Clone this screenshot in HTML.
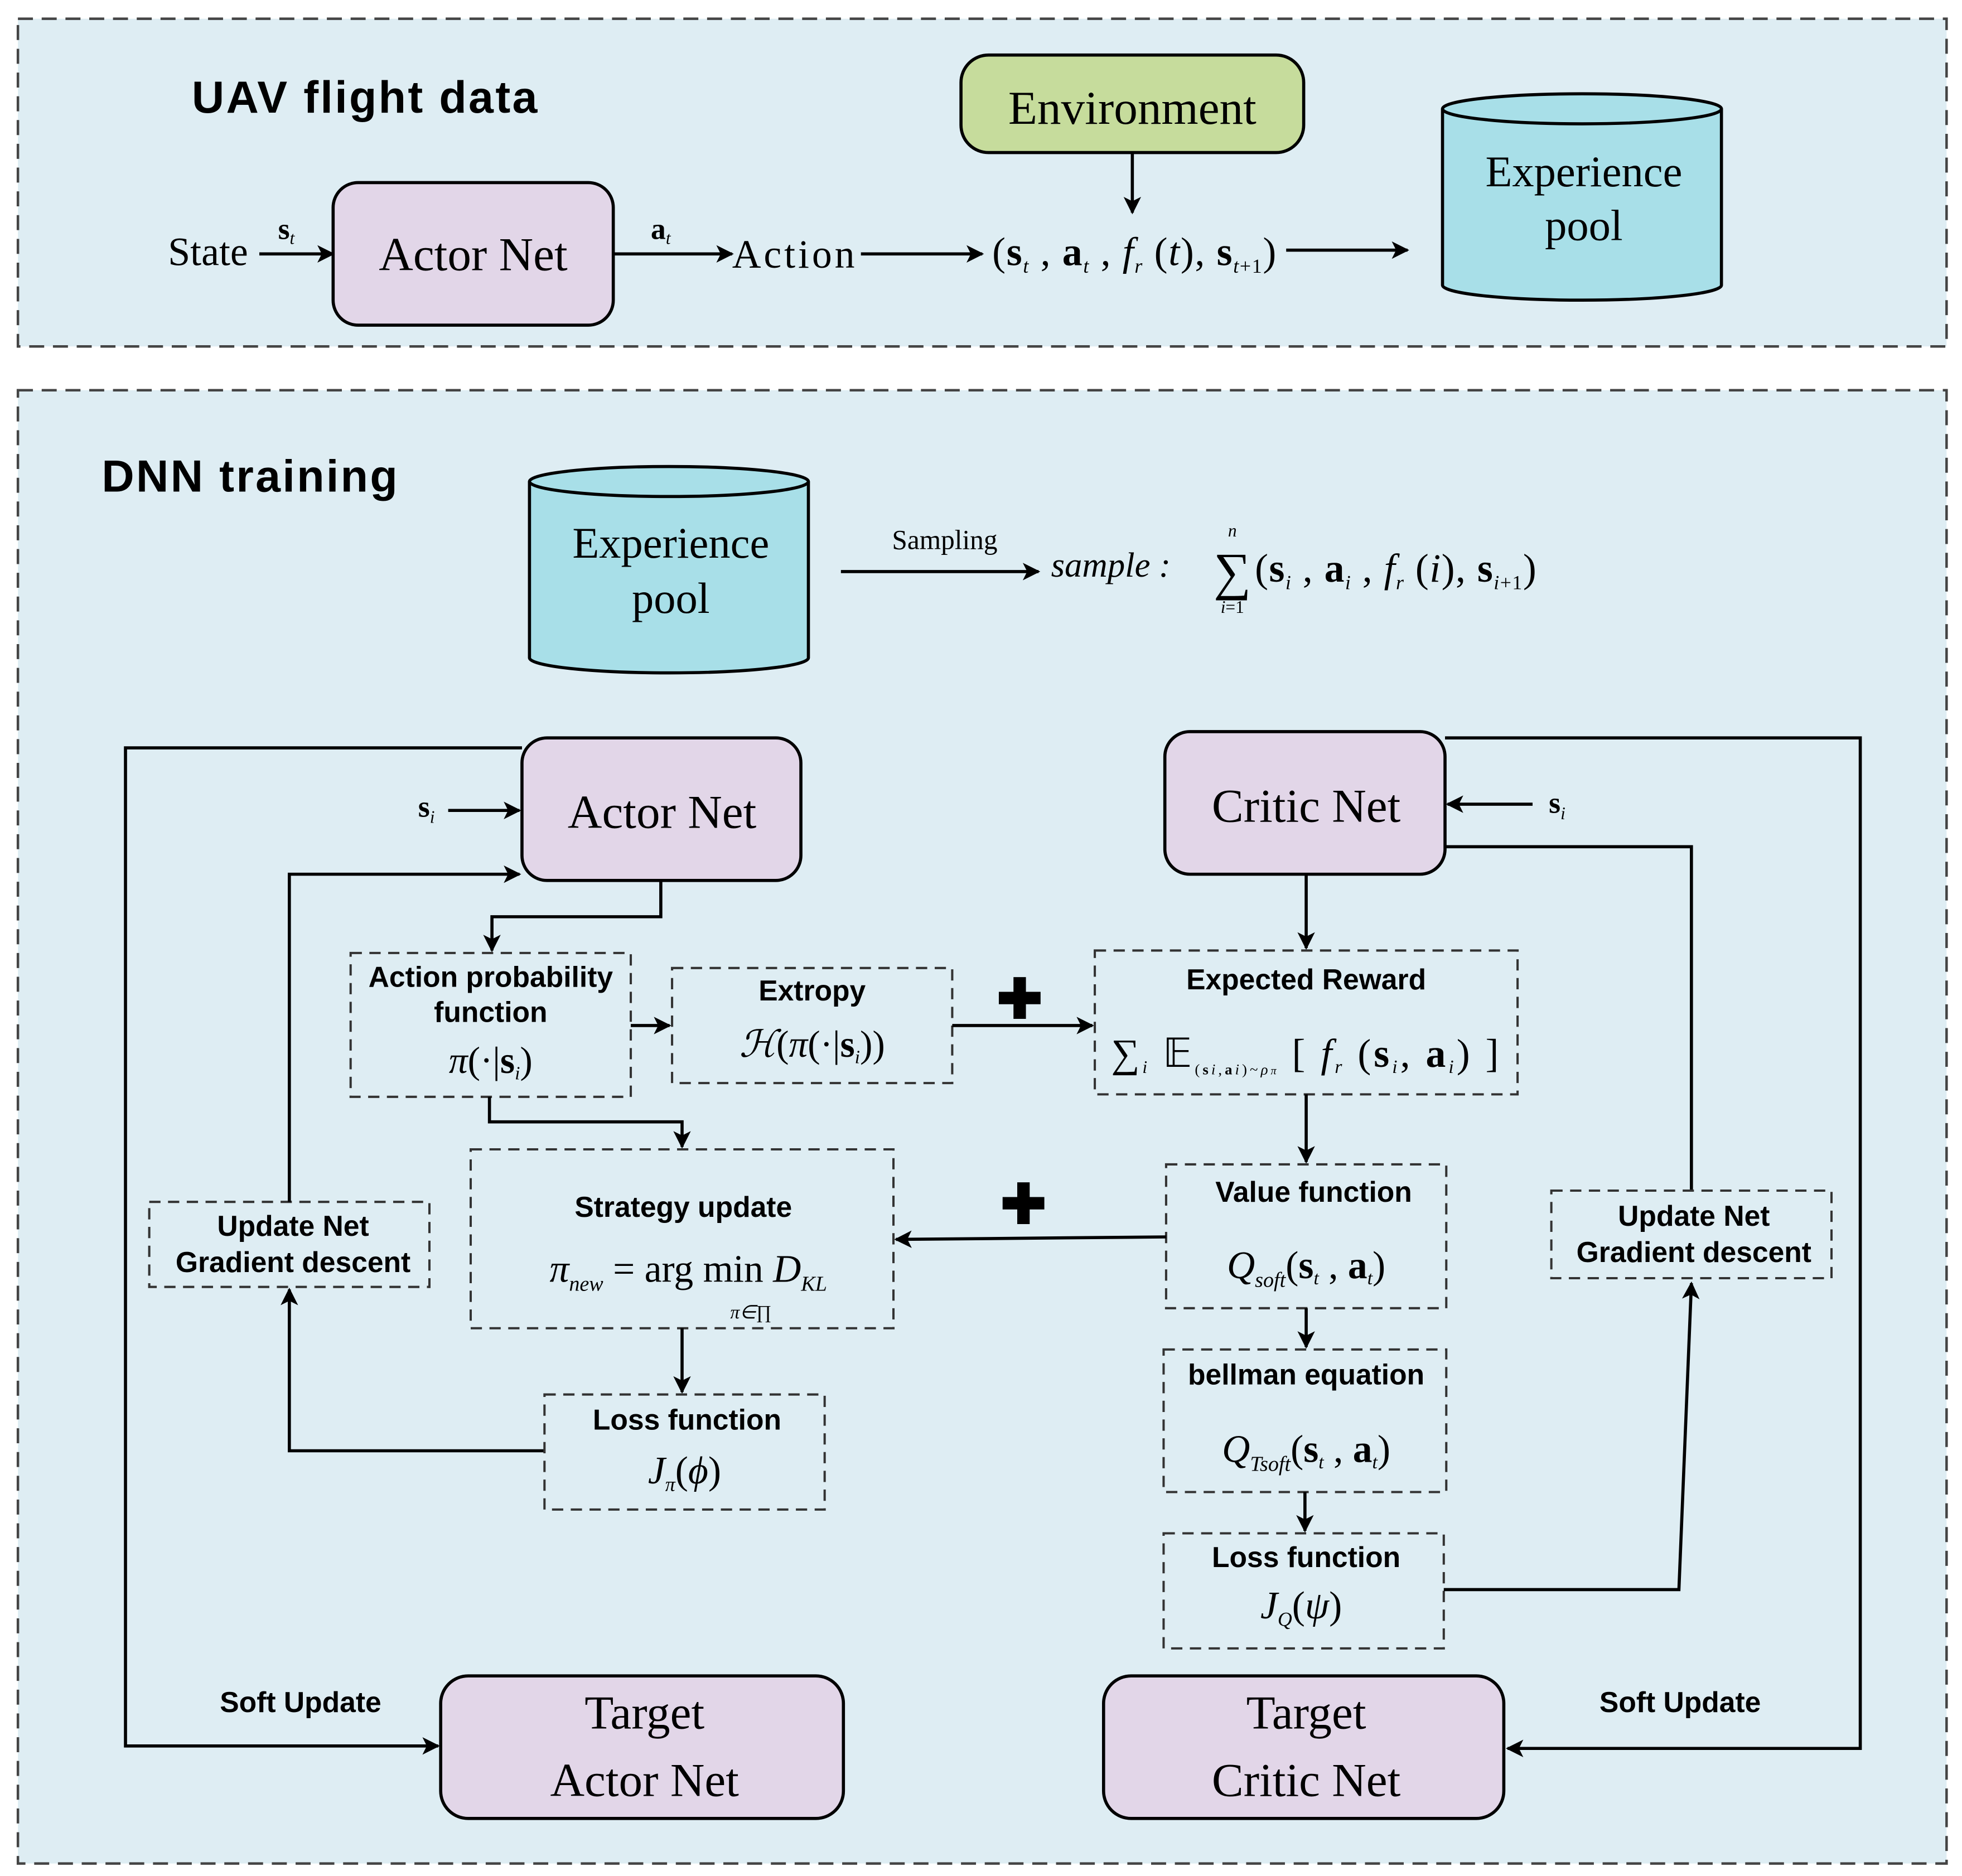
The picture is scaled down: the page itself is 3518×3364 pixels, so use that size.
<!DOCTYPE html>
<html><head><meta charset="utf-8"><style>html,body{margin:0;padding:0;background:#fff}svg{display:block}</style></head><body>
<svg xmlns="http://www.w3.org/2000/svg" width="3518" height="3364" viewBox="0 0 1568 1500">
<defs>
<marker id="b" viewBox="0 0 10 10" markerWidth="16" markerHeight="14" refX="9" refY="5" orient="auto" markerUnits="userSpaceOnUse"><path d="M0,0 L10,5 L0,10 L2.5,5 z" fill="#000"/></marker>
</defs>
<style>
.s{font-family:"Liberation Serif",serif}
.b{font-family:"Liberation Sans",sans-serif;font-weight:bold}
.i{font-style:italic}
.ln{stroke:#000;stroke-width:2.5;fill:none}
.d{fill:none;stroke:#333;stroke-width:1.8;stroke-dasharray:9,6}
</style>
<rect x="14" y="15" width="1542" height="262" fill="#deedf3" stroke="#444" stroke-width="2" stroke-dasharray="12,7"/>
<rect x="14" y="312" width="1542" height="1178" fill="#deedf3" stroke="#444" stroke-width="2" stroke-dasharray="12,7"/>
<text x="153" y="90" class="b" font-size="36" letter-spacing="1.5">UAV flight data</text>
<text x="81" y="393" class="b" font-size="36" letter-spacing="1.5">DNN training</text>

<rect x="768" y="44" width="274" height="78" rx="22" fill="#c6dc9c" stroke="#000" stroke-width="2.5"/>
<text x="905" y="99" class="s" font-size="38" text-anchor="middle">Environment</text>
<line x1="905" y1="122" x2="905" y2="170" class="ln" marker-end="url(#b)"/>

<rect x="266" y="146" width="224" height="114" rx="20" fill="#e2d6e8" stroke="#000" stroke-width="2.5"/>
<text x="378" y="216" class="s" font-size="38" text-anchor="middle">Actor Net</text>
<text x="134" y="212" class="s" font-size="32">State</text>
<line x1="207" y1="203" x2="266" y2="203" class="ln" marker-end="url(#b)"/>
<text x="222" y="191" class="s" font-size="24" font-weight="bold">s<tspan font-size="14" font-weight="normal" font-style="italic" dy="4">t</tspan></text>
<line x1="490" y1="203" x2="585" y2="203" class="ln" marker-end="url(#b)"/>
<text x="520" y="191" class="s" font-size="24" font-weight="bold">a<tspan font-size="14" font-weight="normal" font-style="italic" dy="4">t</tspan></text>
<text x="585" y="214" class="s" font-size="32" textLength="98">Action</text>
<line x1="688" y1="203" x2="785" y2="203" class="ln" marker-end="url(#b)"/>
<text x="793" y="212" class="s" font-size="32" textLength="227" lengthAdjust="spacing">(<tspan font-weight="bold">s</tspan><tspan font-size="16" class="i" dy="6">t</tspan><tspan dy="-6"> , </tspan><tspan font-weight="bold">a</tspan><tspan font-size="16" class="i" dy="6">t</tspan><tspan dy="-6"> , </tspan><tspan class="i">f</tspan><tspan font-size="16" class="i" dy="6">r</tspan><tspan dy="-6"> (</tspan><tspan class="i">t</tspan>), <tspan font-weight="bold">s</tspan><tspan font-size="16" dy="6"><tspan class="i">t</tspan>+1</tspan><tspan dy="-6">)</tspan></text>
<line x1="1028" y1="200" x2="1125" y2="200" class="ln" marker-end="url(#b)"/>

<g>
<path d="M1153,87 L1153,228 A111.5,12 0 0 0 1376,228 L1376,87" fill="#a8dfe8" stroke="#000" stroke-width="2.5"/>
<ellipse cx="1264.5" cy="87" rx="111.5" ry="12" fill="#a8dfe8" stroke="#000" stroke-width="2.5"/>
<text x="1266" y="149" class="s" font-size="35" text-anchor="middle">Experience</text>
<text x="1266" y="192" class="s" font-size="35" text-anchor="middle">pool</text>
</g>
<g>
<path d="M423,385 L423,526 A111.5,12 0 0 0 646,526 L646,385" fill="#a8dfe8" stroke="#000" stroke-width="2.5"/>
<ellipse cx="534.5" cy="385" rx="111.5" ry="12" fill="#a8dfe8" stroke="#000" stroke-width="2.5"/>
<text x="536" y="446" class="s" font-size="35" text-anchor="middle">Experience</text>
<text x="536" y="490" class="s" font-size="35" text-anchor="middle">pool</text>
</g>
<line x1="672" y1="457" x2="830" y2="457" class="ln" marker-end="url(#b)"/>
<text x="755" y="439" class="s" font-size="22" text-anchor="middle">Sampling</text>
<text x="840" y="461" class="s i" font-size="28">sample :</text>
<text x="985" y="471" class="s" font-size="42" text-anchor="middle">∑</text>
<text x="985" y="429" class="s i" font-size="14" text-anchor="middle">n</text>
<text x="985" y="490" class="s" font-size="14" text-anchor="middle"><tspan class="i">i</tspan>=1</text>
<text x="1003" y="465" class="s" font-size="32" textLength="225" lengthAdjust="spacing">(<tspan font-weight="bold">s</tspan><tspan font-size="16" class="i" dy="6">i</tspan><tspan dy="-6"> , </tspan><tspan font-weight="bold">a</tspan><tspan font-size="16" class="i" dy="6">i</tspan><tspan dy="-6"> , </tspan><tspan class="i">f</tspan><tspan font-size="16" class="i" dy="6">r</tspan><tspan dy="-6"> (</tspan><tspan class="i">i</tspan>), <tspan font-weight="bold">s</tspan><tspan font-size="16" dy="6"><tspan class="i">i</tspan>+1</tspan><tspan dy="-6">)</tspan></text>

<!-- Actor side -->
<rect x="417" y="590" width="223" height="114" rx="20" fill="#e2d6e8" stroke="#000" stroke-width="2.5"/>
<text x="529" y="662" class="s" font-size="38" text-anchor="middle">Actor Net</text>
<text x="334" y="653" class="s" font-size="24" font-weight="bold">s<tspan font-size="14" font-weight="normal" class="i" dy="5">i</tspan></text>
<line x1="358" y1="648" x2="415" y2="648" class="ln" marker-end="url(#b)"/>
<polyline points="417,598 100,598 100,1396 350,1396" class="ln" marker-end="url(#b)"/>
<text x="240" y="1369" class="b" font-size="23" text-anchor="middle">Soft Update</text>

<rect x="119" y="961" width="224" height="68" class="d"/>
<text x="234" y="988" class="b" font-size="23" text-anchor="middle">Update Net</text>
<text x="234" y="1017" class="b" font-size="23" text-anchor="middle">Gradient descent</text>
<polyline points="231,961 231,699 415,699" class="ln" marker-end="url(#b)"/>
<polyline points="435,1160 231,1160 231,1031" class="ln" marker-end="url(#b)"/>
<polyline points="528,704 528,733 393,733 393,760" class="ln" marker-end="url(#b)"/>

<rect x="280" y="762" width="224" height="115" class="d"/>
<text x="392" y="789" class="b" font-size="23" text-anchor="middle">Action probability</text>
<text x="392" y="817" class="b" font-size="23" text-anchor="middle">function</text>
<text x="392" y="858" class="s" font-size="30" text-anchor="middle"><tspan class="i">π</tspan>(·|<tspan font-weight="bold">s</tspan><tspan font-size="15" class="i" dy="5">i</tspan><tspan dy="-5">)</tspan></text>
<line x1="504" y1="820" x2="535" y2="820" class="ln" marker-end="url(#b)"/>

<rect x="537" y="774" width="224" height="92" class="d"/>
<text x="649" y="800" class="b" font-size="23" text-anchor="middle">Extropy</text>
<text x="649" y="845" class="s" font-size="30" text-anchor="middle"><tspan class="i">ℋ</tspan>(<tspan class="i">π</tspan>(·|<tspan font-weight="bold">s</tspan><tspan font-size="15" class="i" dy="5">i</tspan><tspan dy="-5">))</tspan></text>
<line x1="761" y1="820" x2="873" y2="820" class="ln" marker-end="url(#b)"/>
<text x="815" y="814" class="b" font-size="44" text-anchor="middle">✚</text>

<rect x="875" y="760" width="338" height="115" class="d"/>
<text x="1044" y="791" class="b" font-size="23" text-anchor="middle">Expected Reward</text>
<text x="888" y="853" class="s" font-size="32" textLength="310" lengthAdjust="spacing">∑<tspan font-size="14" class="i" dy="5">i</tspan><tspan dy="-5"> 𝔼</tspan><tspan font-size="12" dy="6">(<tspan font-weight="bold">s</tspan><tspan class="i">i</tspan>,<tspan font-weight="bold">a</tspan><tspan class="i">i</tspan>)~<tspan class="i">ρ<tspan font-size="9">π</tspan></tspan></tspan><tspan dy="-6"> [ </tspan><tspan class="i">f</tspan><tspan font-size="15" class="i" dy="5">r</tspan><tspan dy="-5"> (</tspan><tspan font-weight="bold">s</tspan><tspan font-size="15" class="i" dy="5">i</tspan><tspan dy="-5">, </tspan><tspan font-weight="bold">a</tspan><tspan font-size="15" class="i" dy="5">i</tspan><tspan dy="-5">) ]</tspan></text>

<!-- Critic -->
<rect x="931" y="585" width="224" height="114" rx="20" fill="#e2d6e8" stroke="#000" stroke-width="2.5"/>
<text x="1044" y="657" class="s" font-size="38" text-anchor="middle">Critic Net</text>
<line x1="1044" y1="699" x2="1044" y2="758" class="ln" marker-end="url(#b)"/>
<line x1="1225" y1="643" x2="1157" y2="643" class="ln" marker-end="url(#b)"/>
<text x="1238" y="650" class="s" font-size="24" font-weight="bold">s<tspan font-size="14" font-weight="normal" class="i" dy="5">i</tspan></text>
<polyline points="1155,590 1487,590 1487,1398 1205,1398" class="ln" marker-end="url(#b)"/>
<text x="1343" y="1369" class="b" font-size="23" text-anchor="middle">Soft Update</text>
<polyline points="1155,677 1352,677 1352,952" class="ln"/>
<rect x="1240" y="952" width="224" height="70" class="d"/>
<text x="1354" y="980" class="b" font-size="23" text-anchor="middle">Update Net</text>
<text x="1354" y="1009" class="b" font-size="23" text-anchor="middle">Gradient descent</text>
<line x1="1044" y1="875" x2="1044" y2="929" class="ln" marker-end="url(#b)"/>

<rect x="932" y="931" width="224" height="115" class="d"/>
<text x="1050" y="961" class="b" font-size="23" text-anchor="middle">Value function</text>
<text x="1044" y="1022" class="s" font-size="31" text-anchor="middle"><tspan class="i">Q</tspan><tspan font-size="17" class="i" dy="7">soft</tspan><tspan dy="-7">(</tspan><tspan font-weight="bold">s</tspan><tspan font-size="15" class="i" dy="5">t</tspan><tspan dy="-5"> , </tspan><tspan font-weight="bold">a</tspan><tspan font-size="15" class="i" dy="5">t</tspan><tspan dy="-5">)</tspan></text>
<line x1="932" y1="989" x2="716" y2="991" class="ln" marker-end="url(#b)"/>
<text x="818" y="978" class="b" font-size="44" text-anchor="middle">✚</text>

<rect x="376" y="919" width="338" height="143" class="d"/>
<text x="546" y="973" class="b" font-size="23" text-anchor="middle">Strategy update</text>
<text x="550" y="1025" class="s" font-size="31" text-anchor="middle"><tspan class="i">π</tspan><tspan font-size="17" class="i" dy="7">new</tspan><tspan dy="-7"> = arg min </tspan><tspan class="i">D</tspan><tspan font-size="17" class="i" dy="7">KL</tspan></text>
<text x="600" y="1054" class="s i" font-size="15" text-anchor="middle">π∈∏</text>
<polyline points="391,877 391,897 545,897 545,917" class="ln" marker-end="url(#b)"/>
<line x1="545" y1="1062" x2="545" y2="1113" class="ln" marker-end="url(#b)"/>

<rect x="435" y="1115" width="224" height="92" class="d"/>
<text x="549" y="1143" class="b" font-size="23" text-anchor="middle">Loss function</text>
<text x="547" y="1186" class="s" font-size="31" text-anchor="middle"><tspan class="i">J</tspan><tspan font-size="16" class="i" dy="6">π</tspan><tspan dy="-6">(</tspan><tspan class="i">ϕ</tspan>)</text>

<line x1="1044" y1="1046" x2="1044" y2="1077" class="ln" marker-end="url(#b)"/>
<rect x="930" y="1079" width="226" height="114" class="d"/>
<text x="1044" y="1107" class="b" font-size="23" text-anchor="middle">bellman equation</text>
<text x="1044" y="1169" class="s" font-size="31" text-anchor="middle"><tspan class="i">Q</tspan><tspan font-size="17" class="i" dy="7">Tsoft</tspan><tspan dy="-7">(</tspan><tspan font-weight="bold">s</tspan><tspan font-size="15" class="i" dy="5">t</tspan><tspan dy="-5"> , </tspan><tspan font-weight="bold">a</tspan><tspan font-size="15" class="i" dy="5">t</tspan><tspan dy="-5">)</tspan></text>
<line x1="1043" y1="1193" x2="1043" y2="1224" class="ln" marker-end="url(#b)"/>
<rect x="930" y="1226" width="224" height="92" class="d"/>
<text x="1044" y="1253" class="b" font-size="23" text-anchor="middle">Loss function</text>
<text x="1040" y="1294" class="s" font-size="31" text-anchor="middle"><tspan class="i">J</tspan><tspan font-size="16" class="i" dy="6">Q</tspan><tspan dy="-6">(</tspan><tspan class="i">ψ</tspan>)</text>
<polyline points="1154,1271 1342,1271 1352,1026" class="ln" marker-end="url(#b)"/>

<rect x="352" y="1340" width="322" height="114" rx="22" fill="#e2d6e8" stroke="#000" stroke-width="2.5"/>
<text x="515" y="1382" class="s" font-size="38" text-anchor="middle">Target</text>
<text x="515" y="1436" class="s" font-size="38" text-anchor="middle">Actor Net</text>
<rect x="882" y="1340" width="320" height="114" rx="22" fill="#e2d6e8" stroke="#000" stroke-width="2.5"/>
<text x="1044" y="1382" class="s" font-size="38" text-anchor="middle">Target</text>
<text x="1044" y="1436" class="s" font-size="38" text-anchor="middle">Critic Net</text>
</svg>
</body></html>
